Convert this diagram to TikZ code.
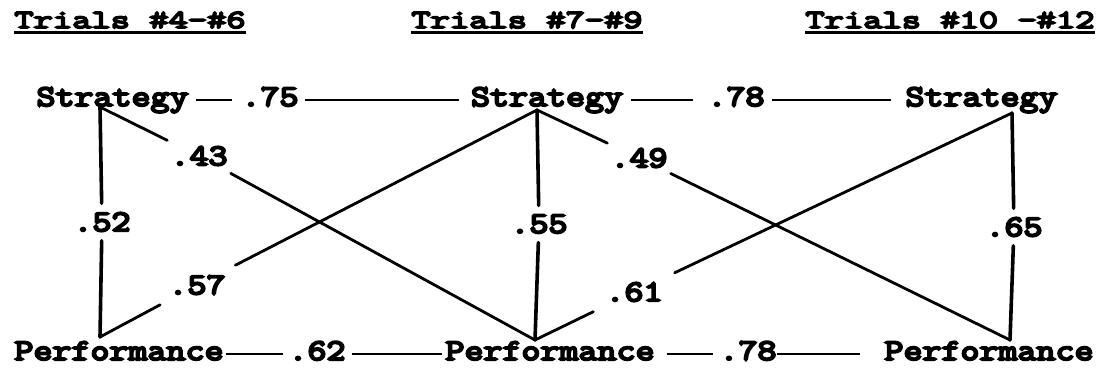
\documentclass[tikz,border=0pt]{standalone}
\usepackage{fontspec}
\newfontfamily\bodyf[FakeStretch=1.23,FakeBold=7]{Latin Modern Mono}
\newfontfamily\titlef[FakeStretch=1.44,FakeBold=7]{Latin Modern Mono}
\tikzset{
 txt/.style={inner sep=0pt, anchor=base, font=\bodyf\fontsize{30}{32}\selectfont},
 ttl/.style={inner sep=0pt, anchor=base, font=\titlef\fontsize{26}{28}\selectfont},
 lab/.style={txt, anchor=center, inner xsep=3pt, inner ysep=9pt},
 labw/.style={lab, inner xsep=12pt, inner ysep=10pt},
 hl/.style={line width=2.2pt, transform canvas={yshift=4pt}},
 edge/.style={line width=2.8pt, line cap=round, line join=round},
 vedge/.style={line width=3.6pt, line cap=round, line join=round},
 uline/.style={line width=2.6pt}
}
\begin{document}
\begin{tikzpicture}[x=1pt,y=-1pt]
\fill[white] (0,0) rectangle (1104,370);
\useasboundingbox (0,0) rectangle (1104,370);
% titles
\node[ttl] (t1) at (130,28) {Trials \#4-\#6};
\node[ttl] (t2) at (527,28) {Trials \#7-\#9};
\node[ttl] (t3) at (950,28) {Trials \#10 -\#12};
\foreach \t in {t1,t2,t3}{
  \draw[uline] ([yshift=-4.5pt]\t.base west) -- ([yshift=-4.5pt]\t.base east);
}
% top row
\node[txt] (s1) at (112.5,106) {Strategy};
\node[txt] (r75) at (270,106) {.75};
\node[txt] (s2) at (547,106) {Strategy};
\node[txt] (r78) at (736,106) {.78};
\node[txt] (s3) at (981.5,106) {Strategy};
\draw[hl, shorten <=7pt, shorten >=9pt] (s1.mid east) -- (r75.mid west);
\draw[hl, shorten <=6pt, shorten >=12pt] (r75.mid east) -- (s2.mid west);
\draw[hl, shorten <=8pt, shorten >=14pt] (s2.mid east) -- (r78.mid west);
\draw[hl, shorten <=7pt, shorten >=14pt] (r78.mid east) -- (s3.mid west);
% bottom row
\node[txt] (p1) at (119,360) {Performance};
\node[txt] (r62) at (317,360) {.62};
\node[txt] (p2) at (550,360) {Performance};
\node[txt] (r78b) at (748,360) {.78};
\node[txt] (p3) at (989,360) {Performance};
\draw[hl, shorten <=2pt, shorten >=5pt] (p1.mid east) -- (r62.mid west);
\draw[hl, shorten <=6pt, shorten >=3pt] (r62.mid east) -- (p2.mid west);
\draw[hl, shorten <=12pt, shorten >=6pt] (p2.mid east) -- (r78b.mid west);
\draw[hl, shorten <=0pt, shorten >=24pt] (r78b.mid east) -- (p3.mid west);
% vertices
\coordinate (sa) at (100,107);
\coordinate (sb) at (537,110);
\coordinate (sc) at (1012,113);
\coordinate (pa) at (100,337);
\coordinate (pb) at (535,340);
\coordinate (pc) at (1010,340);
% labels
\node[lab] (l52) at (102,222) {.52};
\node[lab] (l43) at (199,156) {.43};
\node[labw] (l57) at (197,285) {.57};
\node[lab] (l55) at (539,224) {.55};
\node[lab] (l49) at (639,158) {.49};
\node[labw] (l61) at (634,292) {.61};
\node[lab] (l65) at (1014,227) {.65};
% connectors
\draw[vedge] (sa) -- (l52) -- (pa);
\draw[edge] (sa) -- (l43) -- (pb);
\draw[edge] (pa) -- (l57) -- (sb);
\draw[vedge] (sb) -- (l55) -- (pb);
\draw[edge] (sb) -- (l49) -- (pc);
\draw[edge] (pb) -- (l61) -- (sc);
\draw[vedge] (sc) -- (l65) -- (pc);
\end{tikzpicture}
\end{document}
